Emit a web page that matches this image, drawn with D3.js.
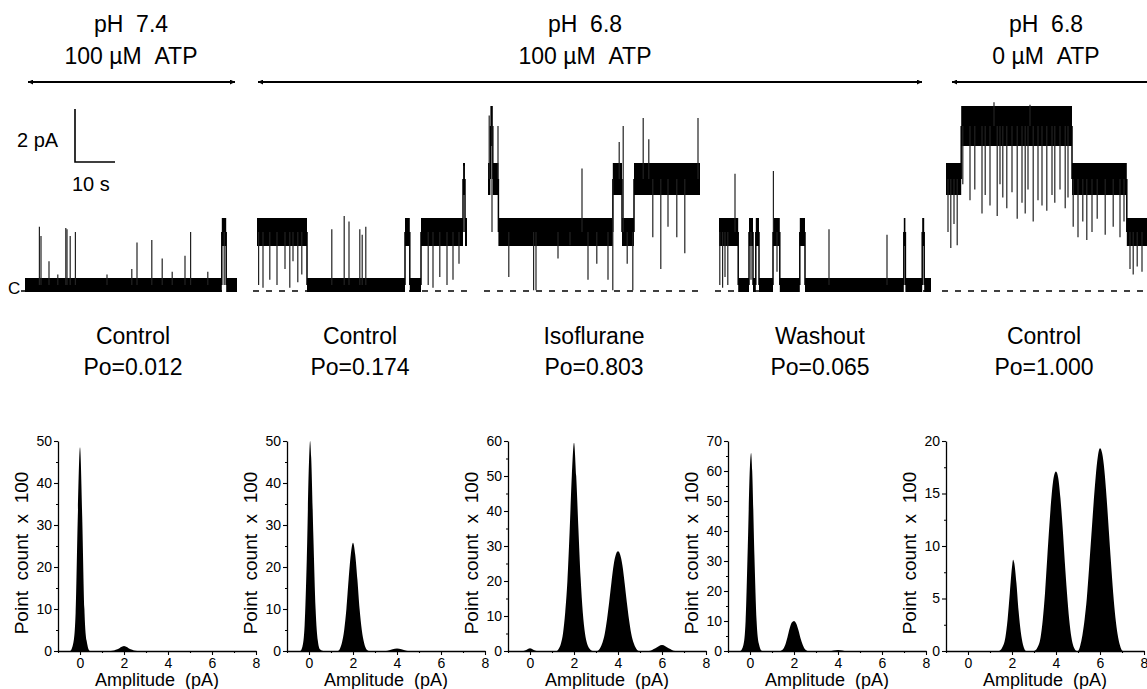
<!DOCTYPE html>
<html>
<head>
<meta charset="utf-8">
<script src="https://cdn.jsdelivr.net/npm/d3@7"></script>
<style>
body { margin: 0; background: #fff; }
svg { display: block; font-family: "Liberation Sans", Arial, Helvetica, sans-serif; }
</style>
</head>
<body>
<svg id="chart" width="1147" height="689"></svg>
<script>
// condition headers above the traces
var conditionText = [
  ["pH\u00a0\u00a07.4", "100\u00a0\u00b5M\u00a0\u00a0ATP"],
  ["pH\u00a0\u00a06.8", "100\u00a0\u00b5M\u00a0\u00a0ATP"],
  ["pH\u00a0\u00a06.8", "0\u00a0\u00b5M\u00a0\u00a0ATP"]
];

// panel names and open probabilities
var panelNames = ["Control", "Control", "Isoflurane", "Washout", "Control"];
var panelPo = ["0.012", "0.174", "0.803", "0.065", "1.000"];

// traces: segments [start s, end s, level pA], brief events [time s, reached pA]
var trace1Segs = [[0, 49.2, 0], [49.2, 50.3, 2], [50.3, 53, 0]];
var trace1Events = [[3.6, 2.2], [4.0, 1.85], [6.0, 0.9], [8.2, 0.4], [10.2, 2.15], [10.5, 2.1], [11.3, 1.85],
  [12.6, 2.0], [20.5, 0.4], [26.7, 0.6], [28.0, 1.6], [31.7, 1.7], [34.3, 1.0], [36.8, 0.5], [40.0, 1.1],
  [41.4, 2.0], [45.7, 0.5], [49.8, 0]];

var trace2Segs = [[0, 12.5, 2], [12.5, 37.0, 0], [37.0, 38.2, 2], [38.2, 41.0, 0], [41.0, 51.5, 2],
  [51.5, 52.0, 4], [52.0, 52.5, 2]];
var trace2Events = [[0.4, 0], [1.5, -0.1], [3.2, 0.2], [5.0, 0], [7.0, 0.6], [8.2, -0.1], [9.0, 0.9],
  [10.2, 0.1], [11.2, 0.4], [18.7, 2.1], [21.8, 2.6], [23.0, 2.4], [25.7, 2.1], [26.3, 1.9], [27.2, 2.2],
  [42.8, 0], [44.0, -0.1], [45.7, 0.3], [47.5, 0], [49.0, 0.2], [50.5, 0.8], [51.7, 4.5]];

var trace3Segs = [[0, 0.6, 4], [0.6, 1.2, 6], [1.2, 2.6, 4], [2.6, 31.2, 2], [31.2, 33.5, 4],
  [33.5, 36.5, 2], [36.5, 53, 4]];
var trace3Events = [[0.3, 6.4], [1.0, 2.0], [2.5, 6.0], [5.2, 0.3], [11.4, -0.2], [12.0, -0.2], [17.5, 1.0],
  [20.5, 1.5], [23.5, 4.4], [25.0, 0.2], [27.2, 0.8], [30.0, 0.2], [31.2, -0.2], [32.8, 5.4], [33.8, 6.0],
  [34.8, 0.8], [36.2, -0.2], [38.8, 6.3], [40.2, 5.5], [41.2, 1.8], [43.2, 0.6], [45.0, 2.2], [47.2, 1.8],
  [49.2, 1.2], [52.5, 6.3]];

var trace4Segs = [[0, 4.8, 2], [4.8, 7.5, 0], [7.5, 8.5, 2], [8.5, 9.2, 0], [9.2, 10.0, 2], [10.0, 13.5, 0],
  [13.5, 15.2, 2], [15.2, 20.2, 0], [20.2, 21.5, 2], [21.5, 46.2, 0], [46.2, 46.6, 2], [46.6, 50.8, 0],
  [50.8, 51.3, 2], [51.3, 53, 0]];
var trace4Events = [[0.2, 0], [0.9, -0.1], [1.5, 0.3], [2.2, 0], [4.0, 4.2], [8.0, 0.2], [13.6, 4.3],
  [14.5, 0.5], [27.5, 2.1], [42.0, 1.9]];

var trace5Segs = [[0, 3.8, 4], [3.8, 31.5, 6], [31.5, 45.2, 4], [45.2, 50.5, 2]];
var trace5Events = [[0.5, 2.0], [1.2, 1.4], [2.0, 2.3], [2.8, 1.5],
  [4.2, 3.8], [6.0, 3.2], [7.2, 3.6], [9.0, 2.7], [9.8, 3.4], [11.0, 3.0], [12.0, 6.9], [12.8, 2.6],
  [13.5, 3.8], [14.2, 3.3], [15.2, 2.9], [16.5, 3.5], [17.8, 2.5], [19.0, 3.1], [19.8, 2.7], [20.5, 3.6],
  [21.0, 6.8], [21.8, 2.4], [23.0, 3.2], [24.0, 3.0], [25.2, 2.8], [26.5, 3.4], [27.2, 3.1], [28.5, 3.6],
  [29.8, 2.9], [30.5, 3.3],
  [31.8, 2.2], [33.0, 1.8], [34.2, 2.4], [35.2, 1.7], [36.5, 2.0], [37.8, 2.5], [39.8, 1.9], [41.8, 2.2],
  [43.5, 1.8], [44.5, 2.4],
  [46.0, 0.6], [46.8, 0.4], [47.8, 0.7], [49.0, 0.5]];

// amplitude histograms: [amplitude pA, point count x 100]
var hist1 = [[-1, 0], [-0.45, 0], [-0.3, 2], [-0.2, 9], [-0.1, 32], [0, 48.5], [0.1, 32], [0.2, 10],
  [0.3, 2.5], [0.45, 0], [1.4, 0], [1.7, 0.4], [2.0, 1.2], [2.3, 0.4], [2.6, 0], [8, 0]];
var hist2 = [[-1, 0], [-0.4, 0], [-0.3, 1], [-0.2, 6], [-0.1, 22], [0, 45], [0.05, 50], [0.1, 46],
  [0.2, 27], [0.3, 10], [0.4, 2.5], [0.5, 0.4], [0.65, 0], [1.3, 0], [1.4, 0.5], [1.5, 2], [1.6, 5],
  [1.7, 10], [1.8, 17], [1.9, 23], [2.0, 25.8], [2.1, 23], [2.2, 17], [2.3, 10], [2.4, 5], [2.5, 2],
  [2.6, 0.5], [2.75, 0], [3.5, 0], [3.8, 0.4], [4.0, 0.6], [4.2, 0.4], [4.5, 0], [8, 0]];
var hist3 = [[-1, 0], [-0.3, 0], [0, 0.8], [0.3, 0], [1.2, 0], [1.3, 0.6], [1.4, 2], [1.5, 5], [1.6, 11],
  [1.7, 20], [1.8, 34], [1.9, 50], [2.0, 59.5], [2.1, 50], [2.2, 35], [2.3, 21], [2.4, 11], [2.5, 5],
  [2.6, 2], [2.7, 0.7], [2.85, 0], [3.05, 0], [3.2, 1], [3.3, 2.5], [3.4, 5], [3.5, 9], [3.6, 14],
  [3.7, 19.5], [3.8, 24.5], [3.9, 27.5], [4.0, 28.5], [4.1, 27.5], [4.2, 24.5], [4.3, 19.5], [4.4, 14],
  [4.5, 9], [4.6, 5], [4.7, 2.5], [4.8, 1], [4.95, 0], [5.4, 0], [5.7, 0.8], [6.0, 1.7], [6.3, 0.8],
  [6.6, 0], [8, 0]];
var hist4 = [[-1, 0], [-0.45, 0], [-0.3, 2], [-0.2, 10], [-0.1, 35], [0, 62], [0.05, 66], [0.1, 60],
  [0.2, 32], [0.3, 10], [0.4, 2.5], [0.55, 0], [1.35, 0], [1.5, 0.6], [1.6, 2], [1.7, 4.5], [1.8, 7.5],
  [1.9, 9.5], [2.0, 10], [2.1, 9.2], [2.2, 7], [2.3, 4.2], [2.4, 2], [2.5, 0.6], [2.65, 0], [3.6, 0],
  [4.0, 0.35], [4.4, 0], [8, 0]];
var hist5 = [[-1, 0], [1.4, 0], [1.55, 0.3], [1.7, 1.3], [1.8, 3], [1.9, 5.5], [2.0, 8], [2.05, 8.7],
  [2.1, 8.4], [2.2, 6.5], [2.3, 3.8], [2.4, 1.8], [2.5, 0.6], [2.65, 0], [3.0, 0], [3.15, 0.3], [3.3, 1.3],
  [3.4, 3], [3.5, 5.5], [3.6, 8.8], [3.7, 12], [3.8, 14.8], [3.9, 16.6], [4.0, 17.1], [4.1, 16.5],
  [4.2, 14.6], [4.3, 11.8], [4.4, 8.5], [4.5, 5.5], [4.6, 3], [4.7, 1.3], [4.8, 0.4], [4.95, 0], [5.0, 0],
  [5.1, 0.5], [5.2, 1.5], [5.3, 3], [5.4, 5], [5.5, 7.8], [5.6, 10.8], [5.7, 13.8], [5.8, 16.5],
  [5.9, 18.5], [6.0, 19.3], [6.1, 18.8], [6.2, 17.2], [6.3, 14.6], [6.4, 11.5], [6.5, 8.4], [6.6, 5.5],
  [6.7, 3.2], [6.8, 1.6], [6.9, 0.6], [7.05, 0], [8, 0]];

var histMax = [50, 50, 60, 70, 20];
var histStep = [10, 10, 10, 10, 5];
var ampTicks = [0, 2, 4, 6, 8];
var ampMinorTicks = [-1, 1, 3, 5, 7];

var traces = [
  {segs: trace1Segs, events: trace1Events},
  {segs: trace2Segs, events: trace2Events},
  {segs: trace3Segs, events: trace3Events},
  {segs: trace4Segs, events: trace4Events},
  {segs: trace5Segs, events: trace5Events}
];
var hists = [hist1, hist2, hist3, hist4, hist5];

// ---- layout ----
var svg = d3.select("#chart");
var condCenter = [131, 585, 1046];
var condArrow = [[28, 235, true], [258, 922, true], [952, 1160, false]];
var traceLeft = [25, 257, 488, 719, 946];
var titleX = [133, 360, 594, 820, 1044];
var histLeft = [58, 287, 508, 728, 946];
var histW = 198, histTop = 441, histBottom = 651;

// time and current scales of the recordings (10 s = 40 px, 2 pA = 53 px)
var xT = d3.scaleLinear().domain([0, 10]).range([0, 40]);
var yT = d3.scaleLinear().domain([0, 2]).range([285, 232]);
var bandHalf = {0: 7, 2: 14, 4: 16, 6: 20};

// arrowheads
var defs = svg.append("defs");
defs.append("marker")
  .attr("id", "arrow")
  .attr("viewBox", "0 0 10 10")
  .attr("refX", 10).attr("refY", 5)
  .attr("markerWidth", 8).attr("markerHeight", 5)
  .attr("markerUnits", "userSpaceOnUse")
  .attr("orient", "auto-start-reverse")
  .append("path").attr("d", "M0,0L10,5L0,10Z").attr("fill", "#000");

// condition headers
conditionText.forEach(function(lines, i) {
  svg.append("text").attr("x", condCenter[i]).attr("y", 32)
    .attr("text-anchor", "middle").attr("font-size", 23).text(lines[0]);
  svg.append("text").attr("x", condCenter[i]).attr("y", 64)
    .attr("text-anchor", "middle").attr("font-size", 23).text(lines[1]);
  var a = condArrow[i];
  var ln = svg.append("line")
    .attr("x1", a[0]).attr("x2", a[1]).attr("y1", 82).attr("y2", 82)
    .attr("stroke", "#000").attr("stroke-width", 1.8)
    .attr("marker-start", "url(#arrow)");
  if (a[2]) ln.attr("marker-end", "url(#arrow)");
});

// scale bar
var sbX = 75, sbY = 162;
svg.append("path")
  .attr("d", "M" + sbX + "," + (sbY - (yT(0) - yT(2))) + "V" + sbY + "H" + (sbX + xT(10)))
  .attr("fill", "none").attr("stroke", "#000").attr("stroke-width", 1.6);
svg.append("text").attr("x", 17).attr("y", 147).attr("font-size", 20).text("2\u00a0pA");
svg.append("text").attr("x", 72).attr("y", 191).attr("font-size", 20).text("10\u00a0s");
svg.append("text").attr("x", 8).attr("y", 294).attr("font-size", 17).text("C");

// traces
traces.forEach(function(tr, i) {
  var g = svg.append("g").attr("transform", "translate(" + traceLeft[i] + ",0)");
  var tEnd = tr.segs[tr.segs.length - 1][1];

  // closed level reference
  g.append("line")
    .attr("x1", -4).attr("x2", xT(tEnd))
    .attr("y1", yT(-0.23)).attr("y2", yT(-0.23))
    .attr("stroke", "#000").attr("stroke-width", 1.5)
    .attr("stroke-dasharray", "6,7");

  // noisy dwell at each level
  g.selectAll("rect.seg").data(tr.segs).join("rect")
    .attr("class", "seg")
    .attr("x", function(d) { return xT(d[0]); })
    .attr("width", function(d) { return xT(d[1]) - xT(d[0]); })
    .attr("y", function(d) { return yT(d[2]) - bandHalf[d[2]]; })
    .attr("height", function(d) { return 2 * bandHalf[d[2]]; })
    .attr("fill", "#000");

  // level transitions
  g.selectAll("line.step").data(tr.segs.slice(1)).join("line")
    .attr("class", "step")
    .attr("x1", function(d) { return xT(d[0]); })
    .attr("x2", function(d) { return xT(d[0]); })
    .attr("y1", function(d, j) { return yT(tr.segs[j][2]); })
    .attr("y2", function(d) { return yT(d[2]); })
    .attr("stroke", "#000").attr("stroke-width", 1.5);

  // brief openings / closings
  function levelAt(t) {
    var s = tr.segs.find(function(d) { return t >= d[0] && t < d[1]; });
    return s ? s[2] : 0;
  }
  g.selectAll("line.ev").data(tr.events).join("line")
    .attr("class", "ev")
    .attr("x1", function(d) { return xT(d[0]); })
    .attr("x2", function(d) { return xT(d[0]); })
    .attr("y1", function(d) { return yT(levelAt(d[0])); })
    .attr("y2", function(d) { return yT(d[1]); })
    .attr("stroke", "#222").attr("stroke-width", 1.2);
});

// panel titles
panelNames.forEach(function(name, i) {
  svg.append("text").attr("x", titleX[i]).attr("y", 344)
    .attr("text-anchor", "middle").attr("font-size", 23).text(name);
  svg.append("text").attr("x", titleX[i]).attr("y", 375)
    .attr("text-anchor", "middle").attr("font-size", 23).text("Po=" + panelPo[i]);
});

// histograms
hists.forEach(function(data, i) {
  var left = histLeft[i];
  var x = d3.scaleLinear().domain([-1, 8]).range([left, left + histW]);
  var y = d3.scaleLinear().domain([0, histMax[i]]).range([histBottom, histTop]);
  var g = svg.append("g");

  g.append("path").datum(data)
    .attr("fill", "#000")
    .attr("d", d3.area()
      .x(function(d) { return x(d[0]); })
      .y0(y(0))
      .y1(function(d) { return y(d[1]); })
      .curve(d3.curveMonotoneX));

  var major = d3.range(0, histMax[i] + 0.001, histStep[i]);
  var minor = d3.range(histStep[i] / 2, histMax[i], histStep[i]);

  g.append("g").attr("transform", "translate(" + left + ",0)")
    .call(d3.axisLeft(y).tickValues(major).tickSize(4).tickSizeOuter(0).tickPadding(2));
  g.append("g").attr("transform", "translate(" + left + ",0)")
    .call(d3.axisLeft(y).tickValues(minor).tickSize(2).tickFormat(""))
    .select(".domain").remove();

  g.append("g").attr("transform", "translate(0," + histBottom + ")")
    .call(d3.axisBottom(x).tickValues(ampTicks).tickSize(4).tickSizeOuter(0).tickPadding(3));
  g.append("g").attr("transform", "translate(0," + histBottom + ")")
    .call(d3.axisBottom(x).tickValues(ampMinorTicks).tickSize(2).tickFormat(""))
    .select(".domain").remove();

  g.selectAll(".domain").attr("stroke-width", 1.3);
  g.selectAll(".tick line").attr("stroke-width", 1.1);
  g.selectAll("text").attr("font-size", 14)
    .attr("font-family", "Liberation Sans, Arial, sans-serif");

  g.append("text")
    .attr("transform", "translate(" + (left - 30) + "," + 553 + ") rotate(-90)")
    .attr("text-anchor", "middle").attr("font-size", 19)
    .text("Point\u00a0\u00a0count\u00a0\u00a0x\u00a0\u00a0100");

  g.append("text")
    .attr("x", left + histW / 2).attr("y", 686)
    .attr("text-anchor", "middle").attr("font-size", 18)
    .text("Amplitude\u00a0\u00a0(pA)");
});
</script>
</body>
</html>
